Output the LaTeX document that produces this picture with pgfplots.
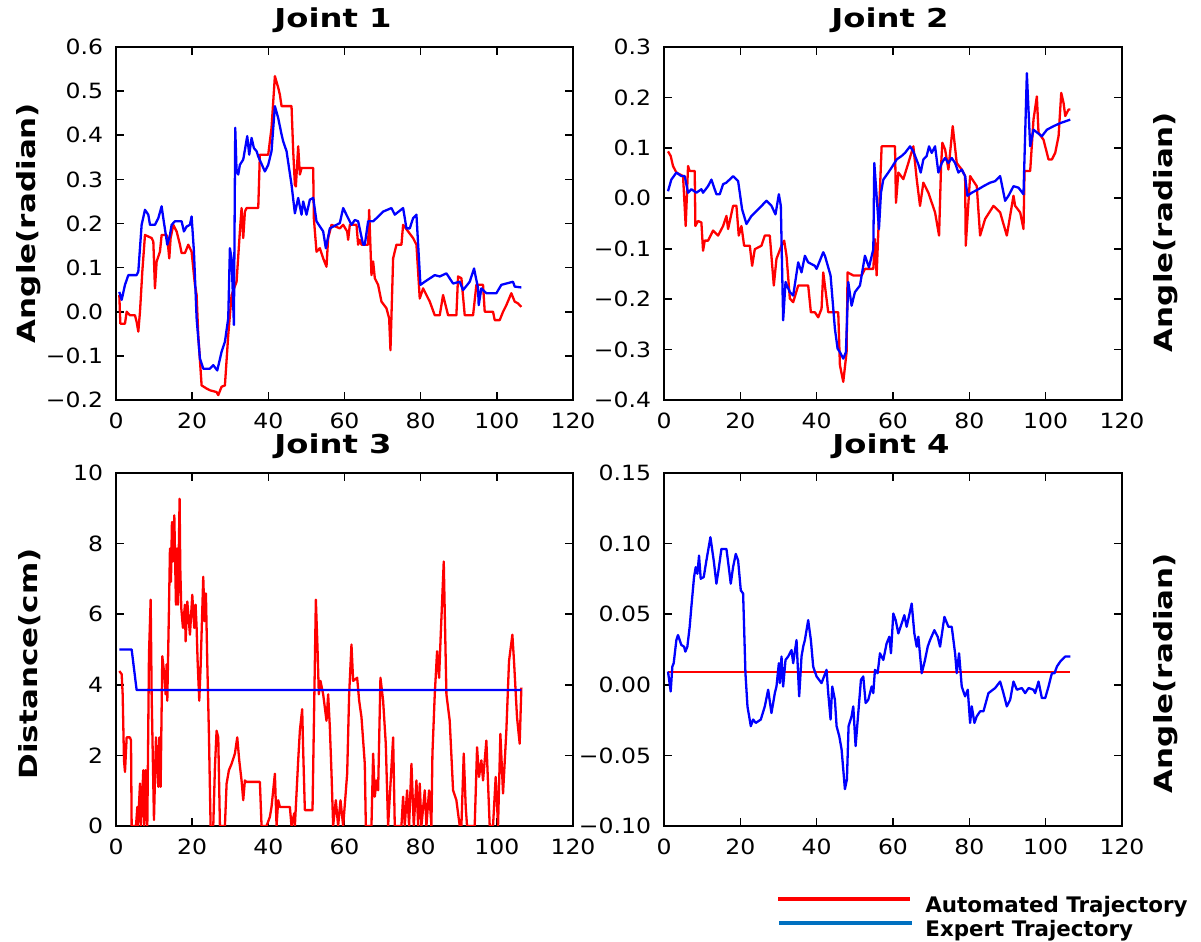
\documentclass[border=0pt]{standalone}
\usepackage{fontspec}
\setmainfont{DejaVu Sans}
\newfontfamily\tickfont[FakeStretch=1.12]{DejaVu Sans}
\newfontfamily\labfont[FakeStretch=1.24]{DejaVu Sans}
\usepackage{pgfplots}
\pgfplotsset{compat=1.18}

\definecolor{autored}{RGB}{255,0,0}
\definecolor{expblue}{RGB}{0,0,255}
\definecolor{legblue}{RGB}{0,112,192}

\pgfplotsset{
  jointaxis/.style={
    scale only axis,
    anchor=south west,
    xmin=0, xmax=120,
    xtick={0,20,...,120},
    xticklabels={0,20,40,60,80,100,120},
    axis line style={black, line width=1pt},
    tick style={black, line width=0.8pt},
    major tick length=4pt,
    tick align=inside,
    xtick pos=both, ytick pos=both,
    xticklabel style={font=\fontsize{10.5pt}{12pt}\tickfont, anchor=north, inner sep=0pt, yshift=-6.3pt},
    yticklabel style={font=\fontsize{10.5pt}{12pt}\tickfont, anchor=east, inner sep=0pt, xshift=-6.3pt},
    clip=true,
  },
  auto/.style={autored, line width=1.15pt, line join=round, mark=none},
  expert/.style={expblue, line width=1.15pt, line join=round, mark=none},
}

\newcommand\titlefont{\fontsize{13pt}{15pt}\labfont\bfseries}
\newcommand\ylabfont{\fontsize{12.5pt}{15pt}\labfont\bfseries}

\begin{document}
\begin{tikzpicture}
\path[use as bounding box] (0,0) rectangle (600.5pt,471pt);

% ---------------- Joint 1 ----------------
\begin{axis}[jointaxis, at={(58pt,271pt)}, width=228.5pt, height=176.5pt,
  ymin=-0.2, ymax=0.6, ytick={-0.2,-0.1,...,0.61},
  yticklabels={−0.2,−0.1,0.0,0.1,0.2,0.3,0.4,0.5,0.6}]
\addplot[auto] coordinates {
(0.87,0.038)(1.14,-0.027)(2.36,-0.027)(2.80,0.000)(3.67,-0.008)(4.99,-0.008)
(5.42,-0.023)(5.86,-0.045)(6.30,0.000)(6.91,0.091)(7.61,0.174)(9.36,0.167)
(9.80,0.159)(10.23,0.053)(10.67,0.114)(11.54,0.136)(11.98,0.174)(13.29,0.174)
(13.73,0.144)(13.99,0.121)(14.34,0.167)(15.04,0.197)(15.92,0.182)(16.79,0.152)
(17.23,0.133)(18.10,0.133)(18.98,0.152)(19.42,0.144)(19.85,0.136)(20.73,0.061)
(21.17,0.038)(21.60,-0.053)(22.48,-0.167)(23.79,-0.174)(24.66,-0.178)(26.41,-0.182)
(26.85,-0.189)(27.72,-0.170)(28.60,-0.167)(29.47,-0.053)(30.35,0.038)(31.66,0.068)
(32.53,0.182)(32.97,0.235)(33.41,0.167)(33.85,0.227)(34.28,0.235)(37.35,0.235)
(37.78,0.356)(39.97,0.356)(40.84,0.417)(41.72,0.534)(42.59,0.508)(43.03,0.492)
(43.47,0.466)(46.09,0.466)(46.53,0.364)(46.97,0.288)(47.23,0.284)(47.84,0.375)
(48.28,0.311)(48.72,0.326)(51.78,0.326)(51.95,0.212)(52.65,0.136)(53.53,0.144)
(54.40,0.121)(55.27,0.102)(55.71,0.167)(56.59,0.197)(58.77,0.189)(59.65,0.197)
(60.70,0.182)(60.96,0.163)(61.40,0.197)(63.15,0.197)(63.58,0.152)(64.02,0.163)
(64.46,0.152)(66.21,0.152)(66.47,0.231)(67.08,0.083)(67.52,0.114)(67.96,0.076)
(68.83,0.061)(69.71,0.023)(71.02,0.008)(71.72,-0.015)(72.07,-0.087)(72.77,0.121)
(73.64,0.152)(74.95,0.152)(75.39,0.197)(76.70,0.182)(78.01,0.167)(78.89,0.152)
(79.76,0.030)(80.64,0.053)(82.39,0.023)(83.70,-0.008)(85.01,-0.008)(85.88,0.038)
(87.20,-0.008)(89.38,-0.008)(89.82,0.080)(90.70,0.076)(91.57,-0.008)(93.76,-0.008)
(94.63,0.061)(96.38,0.061)(96.82,0.000)(99.00,0.000)(99.44,-0.019)(100.75,-0.019)
(101.63,0.000)(102.50,0.015)(103.81,0.042)(104.69,0.023)(105.56,0.019)(106.44,0.011)
};
\addplot[expert] coordinates {
(0.87,0.045)(1.49,0.027)(2.36,0.061)(3.24,0.083)(5.42,0.083)(5.86,0.091)
(6.73,0.197)(7.61,0.231)(8.48,0.220)(8.92,0.197)(10.23,0.197)(11.11,0.212)
(11.98,0.239)(12.42,0.212)(13.47,0.152)(14.17,0.174)(14.61,0.197)(15.48,0.205)
(17.23,0.205)(17.84,0.182)(18.54,0.193)(19.42,0.197)(19.85,0.216)(20.47,0.136)
(21.17,-0.015)(22.04,-0.106)(22.91,-0.129)(24.66,-0.129)(25.54,-0.121)(26.59,-0.133)
(27.72,-0.091)(28.60,-0.068)(29.47,-0.015)(29.91,0.144)(30.35,0.121)(30.96,-0.030)
(31.31,0.417)(31.66,0.318)(32.10,0.311)(32.53,0.333)(33.41,0.345)(33.85,0.367)
(34.46,0.398)(34.98,0.356)(35.60,0.394)(36.21,0.371)(36.91,0.364)(37.35,0.352)
(39.09,0.318)(39.97,0.333)(40.84,0.364)(41.72,0.466)(42.59,0.439)(43.47,0.402)
(43.90,0.386)(44.78,0.364)(46.09,0.288)(46.97,0.223)(47.84,0.258)(48.72,0.220)
(49.15,0.250)(50.03,0.220)(50.90,0.254)(51.78,0.258)(52.65,0.205)(54.40,0.182)
(55.10,0.144)(56.15,0.189)(57.02,0.193)(58.77,0.201)(59.65,0.235)(60.96,0.212)
(61.83,0.197)(62.71,0.208)(63.58,0.205)(64.90,0.152)(65.33,0.152)(66.21,0.205)
(67.52,0.205)(68.39,0.212)(70.14,0.227)(72.33,0.235)(73.20,0.220)(75.39,0.235)
(76.27,0.189)(77.14,0.189)(78.01,0.212)(78.89,0.220)(79.94,0.061)(81.08,0.068)
(83.70,0.083)(85.01,0.080)(86.76,0.087)(88.51,0.064)(90.26,0.068)(91.13,0.049)
(92.88,0.068)(94.02,0.098)(95.07,0.053)(95.24,0.015)(95.94,0.053)(97.25,0.042)
(99.88,0.042)(101.19,0.061)(104.25,0.068)(104.69,0.057)(106.44,0.055)
};
\end{axis}

% ---------------- Joint 2 ----------------
\begin{axis}[jointaxis, at={(332pt,271pt)}, width=229pt, height=176.5pt,
  ymin=-0.4, ymax=0.3, ytick={-0.4,-0.3,...,0.31},
  yticklabels={−0.4,−0.3,−0.2,−0.1,0.0,0.1,0.2,0.3}]
\addplot[auto] coordinates {
(1.05,0.093)(1.75,0.084)(2.36,0.064)(3.24,0.051)(4.99,0.044)(5.68,-0.055)
(6.03,0.011)(6.30,0.064)(6.73,0.054)(8.05,0.054)(8.22,-0.055)(8.92,-0.045)
(9.80,-0.048)(10.23,-0.104)(10.67,-0.084)(11.54,-0.084)(12.86,-0.064)(14.17,-0.074)
(15.48,-0.055)(16.36,-0.035)(16.79,-0.061)(18.10,-0.015)(18.98,-0.015)(19.59,-0.074)
(20.29,-0.055)(20.99,-0.094)(22.48,-0.094)(23.09,-0.134)(23.79,-0.101)(25.54,-0.094)
(26.41,-0.074)(27.72,-0.074)(28.77,-0.173)(29.47,-0.120)(30.79,-0.094)(31.49,-0.084)
(32.10,-0.114)(32.97,-0.199)(33.85,-0.206)(35.16,-0.173)(37.78,-0.173)(38.48,-0.226)
(39.53,-0.226)(40.41,-0.236)(41.28,-0.219)(41.72,-0.147)(43.03,-0.226)(45.65,-0.226)
(46.09,-0.331)(46.97,-0.364)(47.84,-0.305)(48.10,-0.147)(49.59,-0.153)(51.78,-0.153)
(52.65,-0.140)(54.84,-0.140)(55.27,-0.081)(55.71,-0.153)(57.02,0.103)(60.52,0.103)
(60.78,-0.009)(61.40,0.051)(62.71,0.038)(64.02,0.070)(65.33,0.103)(66.21,0.038)
(67.08,-0.015)(67.96,0.031)(69.27,0.011)(71.02,-0.028)(72.07,-0.074)(72.59,0.064)
(72.94,0.110)(73.64,0.097)(74.52,0.057)(75.65,0.143)(76.70,0.070)(78.01,0.057)
(78.89,0.044)(79.06,-0.094)(80.20,0.044)(81.95,0.024)(82.82,-0.074)(84.14,-0.041)
(86.32,-0.015)(88.07,-0.028)(89.82,-0.074)(91.57,0.005)(92.01,-0.015)(93.32,-0.028)
(94.19,-0.061)(94.46,0.054)(95.94,0.054)(96.81,0.156)(97.69,0.202)(98.13,0.130)
(99.44,0.116)(100.75,0.077)(101.63,0.077)(102.50,0.090)(103.38,0.123)(104.08,0.209)
(104.69,0.189)(105.13,0.163)(106.00,0.176)(106.44,0.176)
};
\addplot[expert] coordinates {
(1.05,0.014)(1.92,0.037)(3.24,0.051)(4.55,0.044)(5.42,0.044)(6.30,0.011)
(7.17,0.018)(8.48,0.011)(9.80,0.018)(10.23,0.011)(11.54,0.024)(12.42,0.037)
(13.73,0.008)(14.61,0.008)(15.48,0.028)(16.36,0.031)(18.10,0.044)(19.42,0.034)
(20.47,-0.022)(21.60,-0.051)(22.91,-0.035)(24.66,-0.022)(26.85,-0.005)(28.16,-0.015)
(29.21,-0.032)(30.09,0.008)(30.61,-0.015)(31.22,-0.242)(31.84,-0.166)(32.97,-0.186)
(33.85,-0.193)(35.16,-0.127)(36.03,-0.147)(36.91,-0.114)(37.78,-0.127)(39.53,-0.134)
(39.97,-0.140)(41.72,-0.107)(42.16,-0.114)(43.64,-0.153)(44.78,-0.259)(45.48,-0.298)
(46.09,-0.305)(46.97,-0.318)(47.67,-0.305)(48.28,-0.166)(49.15,-0.213)(50.03,-0.186)
(51.34,-0.173)(52.65,-0.114)(53.70,-0.137)(54.84,-0.101)(55.10,0.070)(56.32,-0.061)
(56.85,0.011)(57.46,0.037)(58.77,0.051)(59.65,0.061)(60.96,0.077)(62.27,0.084)
(63.15,0.090)(64.46,0.103)(65.33,0.093)(66.65,0.067)(67.26,0.051)(67.96,0.077)
(68.83,0.084)(69.44,0.103)(70.14,0.090)(71.02,0.103)(71.89,0.051)(72.77,0.070)
(73.64,0.080)(74.52,0.070)(75.39,0.080)(76.27,0.070)(77.14,0.051)(78.01,0.057)
(78.89,0.044)(79.50,0.005)(80.64,0.011)(82.39,0.018)(83.70,0.024)(85.45,0.031)
(86.76,0.034)(88.07,0.044)(89.38,-0.005)(90.26,0.005)(91.57,0.024)(92.88,0.021)
(94.19,0.008)(95.07,0.248)(95.94,0.103)(96.81,0.136)(99.00,0.123)(100.32,0.136)
(102.07,0.143)(103.81,0.149)(106.44,0.156)
};
\end{axis}

% ---------------- Joint 3 ----------------
\begin{axis}[jointaxis, at={(58pt,58pt)}, width=228.5pt, height=176.5pt,
  ymin=0, ymax=10, ytick={0,2,...,10},
  yticklabels={0,2,4,6,8,10}]
\addplot[auto] coordinates {
(0.87,4.39)(1.49,4.30)(1.75,3.73)(2.10,1.86)(2.36,1.53)(2.80,2.51)(3.67,2.51)
(3.94,2.42)(4.11,0)(5.25,0)(5.60,0.54)(5.77,0)(6.30,1.20)(6.56,0)(7.17,1.58)
(7.43,0)(7.78,1.58)(8.22,0)(8.66,4.86)(9.10,6.41)(9.36,3.73)(9.97,0.17)
(10.50,2.51)(11.11,1.11)(11.37,2.51)(11.72,1.11)(12.16,4.81)(12.68,4.30)
(13.03,3.73)(13.29,4.58)(13.47,3.55)(13.91,6.17)(14.17,7.86)(14.43,6.92)
(14.69,8.61)(14.96,7.49)(15.31,8.80)(15.74,6.27)(16.01,7.86)(16.27,6.27)
(16.70,9.27)(16.88,7.30)(17.14,6.17)(17.58,5.61)(18.10,6.27)(18.28,5.23)
(18.72,6.36)(19.42,5.42)(20.03,6.55)(20.55,5.61)(20.90,6.27)(21.17,5.61)
(21.43,4.67)(21.86,3.55)(22.21,4.48)(22.91,7.06)(23.26,5.80)(23.61,6.59)
(23.96,4.67)(24.40,2.61)(24.84,0)(25.54,0)(25.98,1.67)(26.41,2.70)(26.85,2.51)
(27.29,0)(28.60,0)(29.04,1.20)(29.65,1.58)(30.35,1.76)(31.22,2.05)(31.84,2.51)
(32.36,1.86)(32.97,1.29)(33.41,0.73)(33.85,1.29)(34.28,1.25)(37.78,1.25)
(38.22,0)(39.53,0)(40.41,0.26)(40.84,0.54)(41.72,1.48)(42.16,0)(42.59,0.73)
(43.03,0.54)(45.65,0.54)(46.09,0)(46.79,0.36)(46.97,0)(47.84,1.86)(48.28,2.70)
(48.89,3.31)(49.15,2.14)(49.59,0.45)(51.60,0.45)(51.95,2.80)(52.48,6.41)
(52.91,5.05)(53.26,3.73)(53.70,4.11)(54.40,3.73)(55.27,2.98)(55.71,3.73)
(56.15,2.80)(56.59,1.48)(57.02,0)(57.72,0.73)(58.33,0)(58.95,0.73)(59.65,0)
(60.70,1.48)(61.22,3.73)(61.83,5.14)(62.27,4.11)(63.32,4.20)(63.85,3.55)
(64.46,3.08)(65.33,1.76)(65.60,0)(67.08,0)(67.52,2.05)(67.96,0.83)(68.39,1.29)
(68.83,1.01)(69.44,4.20)(70.14,3.55)(70.84,2.33)(71.45,0)(71.89,0.83)(72.77,2.51)
(73.20,0)(74.95,0)(75.39,0.83)(75.83,0)(76.44,1.01)(76.96,0)(77.58,1.76)
(78.19,0)(78.89,1.29)(79.33,0)(79.76,1.20)(80.20,0)(81.08,1.01)(81.51,0)
(82.21,1.01)(82.82,0)(83.09,2.05)(83.70,3.73)(84.31,4.95)(84.84,4.20)(85.27,5.42)
(86.06,7.49)(86.76,3.73)(87.63,2.98)(88.51,1.01)(89.38,0.73)(89.82,0.36)
(90.26,0)(90.70,0)(91.31,2.05)(91.83,0.54)(92.18,0)(94.19,0)(94.81,2.23)
(95.33,1.39)(95.94,1.86)(96.38,1.29)(97.25,2.42)(98.13,0)(99.00,0)(99.70,1.39)
(100.32,0)(100.93,2.61)(101.63,0.92)(102.50,2.70)(103.20,4.67)(104.08,5.42)
(104.51,4.67)(105.30,3.08)(106.00,2.33)(106.44,3.92)
};
\addplot[expert] coordinates {
(0.87,5.0)(4.11,5.0)(5.42,3.85)(106.44,3.85)
};
\end{axis}

% ---------------- Joint 4 ----------------
\begin{axis}[jointaxis, at={(332pt,58pt)}, width=229pt, height=176.5pt,
  ymin=-0.10, ymax=0.15, ytick={-0.10,-0.05,0,0.05,0.10,0.15},
  yticklabels={−0.10,−0.05,0.00,0.05,0.10,0.15}]
\addplot[auto] coordinates {
(1.05,0.0089)(106.44,0.0089)
};
\addplot[expert] coordinates {
(1.05,0.0094)(1.75,-0.0047)(2.19,0.0129)(2.54,0.0153)(3.24,0.0317)(3.67,0.0352)
(4.11,0.0317)(4.55,0.0282)(5.25,0.0270)(5.60,0.0235)(6.12,0.0270)(6.73,0.0411)
(7.17,0.0552)(7.87,0.0763)(8.31,0.0833)(8.75,0.0786)(9.18,0.0915)(9.62,0.0751)
(10.41,0.0763)(11.11,0.0880)(12.16,0.1045)(13.03,0.0880)(13.73,0.0716)(14.34,0.0822)
(15.04,0.0962)(16.36,0.0962)(16.97,0.0833)(17.49,0.0716)(18.10,0.0833)(18.80,0.0927)
(19.42,0.0880)(20.12,0.0669)(20.73,0.0646)(21.34,0.0082)(21.87,-0.0153)(22.74,-0.0293)
(23.35,-0.0246)(24.05,-0.0270)(25.36,-0.0246)(26.41,-0.0153)(27.29,-0.0035)(28.16,-0.0200)
(29.04,-0.0059)(29.47,-0.0012)(30.09,0.0153)(30.35,0.0012)(30.79,0.0200)(31.22,-0.0012)
(31.84,0.0176)(32.53,0.0200)(33.41,0.0246)(33.85,0.0153)(34.72,0.0317)(35.42,-0.0082)
(36.03,0.0200)(36.47,0.0270)(36.91,0.0317)(37.78,0.0458)(38.48,0.0317)(39.09,0.0129)
(39.97,0.0059)(41.28,0.0012)(42.59,0.0106)(43.03,-0.0059)(43.64,-0.0246)(44.08,-0.0012)
(44.78,-0.0106)(45.22,-0.0293)(45.92,-0.0364)(46.53,-0.0458)(47.40,-0.0739)(47.93,-0.0669)
(48.36,-0.0293)(49.15,-0.0223)(49.59,-0.0153)(50.20,-0.0434)(50.90,-0.0200)(51.60,0.0035)
(52.21,0.0059)(52.83,-0.0129)(53.53,-0.0106)(54.40,-0.0012)(54.84,-0.0059)(55.27,0.0106)
(55.97,0.0082)(56.59,0.0223)(57.46,0.0176)(58.33,0.0293)(59.04,0.0340)(59.47,0.0223)
(60.08,0.0505)(60.70,0.0458)(61.40,0.0364)(62.27,0.0434)(62.97,0.0493)(63.58,0.0411)
(64.90,0.0575)(65.59,0.0364)(66.21,0.0270)(66.65,0.0340)(67.52,0.0082)(68.39,0.0176)
(69.09,0.0270)(69.71,0.0317)(70.84,0.0387)(71.72,0.0340)(72.33,0.0270)(73.47,0.0481)
(74.52,0.0411)(75.39,0.0411)(76.27,0.0223)(76.70,0.0082)(77.31,0.0223)(78.01,-0.0012)
(78.89,-0.0082)(79.59,-0.0035)(80.20,-0.0270)(80.64,-0.0153)(81.34,-0.0270)(81.95,-0.0223)
(82.82,-0.0188)(83.70,-0.0188)(85.01,-0.0059)(86.76,-0.0023)(88.07,0.0023)(88.94,-0.0059)
(89.82,-0.0153)(90.70,-0.0106)(91.57,0.0023)(92.45,-0.0035)(93.76,-0.0023)(94.63,-0.0059)
(95.51,-0.0023)(96.82,-0.0035)(97.25,-0.0059)(98.13,0.0023)(99.00,-0.0094)(99.88,-0.0094)
(100.75,-0.0012)(101.63,0.0082)(102.33,0.0082)(102.94,0.0129)(103.81,0.0164)(105.13,0.0200)
(106.44,0.0200)
};
\end{axis}

% ---------------- titles and axis labels ----------------
\node[anchor=base, inner sep=0pt] at (166.5pt,457pt) {\titlefont Joint 1};
\node[anchor=base, inner sep=0pt] at (445pt,457pt) {\titlefont Joint 2};
\node[anchor=base, inner sep=0pt] at (166.5pt,244pt) {\titlefont Joint 3};
\node[anchor=base, inner sep=0pt] at (445.5pt,244pt) {\titlefont Joint 4};

\node[rotate=90, inner sep=0pt] at (14.5pt,359.5pt) {\ylabfont Angle(radian)};
\node[rotate=90, inner sep=0pt] at (583pt,355pt) {\ylabfont Angle(radian)};
\node[rotate=90, inner sep=0pt] at (15pt,139pt) {\ylabfont Distance(cm)};
\node[rotate=90, inner sep=0pt] at (583pt,134.5pt) {\ylabfont Angle(radian)};

% ---------------- legend ----------------
\draw[autored, line width=2pt] (389pt,21.5pt) -- (455pt,21.5pt);
\draw[legblue, line width=2pt] (389.5pt,9.5pt) -- (456pt,9.5pt);
\node[anchor=base west, inner sep=0pt] at (462.5pt,14.5pt) {\fontsize{10.7pt}{12pt}\selectfont\bfseries Automated Trajectory};
\node[anchor=base west, inner sep=0pt] at (462.5pt,2.5pt) {\fontsize{10.7pt}{12pt}\selectfont\bfseries Expert Trajectory};
\end{tikzpicture}
\end{document}
